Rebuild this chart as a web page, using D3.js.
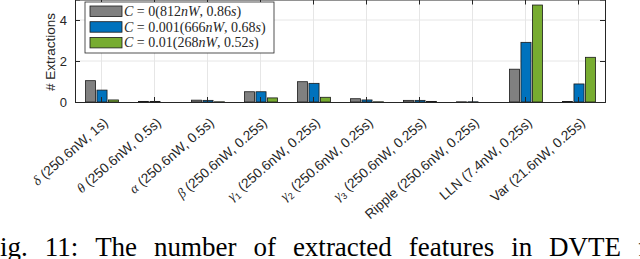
<!DOCTYPE html>
<html>
<head>
<meta charset="utf-8">
<script src="https://cdn.jsdelivr.net/npm/d3@7"></script>
<style>
  body { margin: 0; background: #fff; }
  svg { display: block; }
</style>
</head>
<body>
<script>
// category names (greek part, subscript, rest)
var catGreek = ["δ", "θ", "α", "β", "γ", "γ", "γ", "", "", ""];
var catSub   = ["", "", "", "", "1", "2", "3", "", "", ""];
var catRest  = [" (250.6nW, 1s)", " (250.6nW, 0.5s)", " (250.6nW, 0.5s)", " (250.6nW, 0.25s)",
                " (250.6nW, 0.25s)", " (250.6nW, 0.25s)", " (250.6nW, 0.25s)",
                "Ripple (250.6nW, 0.25s)", "LLN (7.4nW, 0.25s)", "Var (21.6nW, 0.25s)"];

// series values
var c0    = [1.04, 0.03, 0.09, 0.50, 0.99, 0.16, 0.08, 0.01, 1.60, 0.02];
var c001  = [0.58, 0.03, 0.08, 0.50, 0.91, 0.10, 0.08, 0.01, 2.91, 0.88];
var c01   = [0.10, 0.00, 0.01, 0.20, 0.23, 0.01, 0.03, 0.00, 4.73, 2.18];

var seriesNames = ["C = 0(812nW, 0.86s)", "C = 0.001(666nW, 0.68s)", "C = 0.01(268nW, 0.52s)"];
var colors = ["#808080", "#0072BD", "#77AC30"];
var yTicks = [0, 2, 4];

let w = 640;
let h = 259;
let pLeft = 75, pRight = 605, pTop = -0.5, pBottom = 102;

var svg = d3.select("body")
  .append("svg")
  .attr("width", w)
  .attr("height", h);

var idx = d3.range(catRest.length);

let xScale = d3.scaleBand()
  .domain(idx)
  .range([pLeft, pRight])
  .padding(0);

let xSub = d3.scaleBand()
  .domain([0, 1, 2])
  .range([-16, 17])
  .paddingInner(0.12);

let yScale = d3.scaleLinear()
  .domain([0, 5])
  .range([pBottom, pTop]);

// grid
svg.append("g")
  .selectAll("line")
  .data(idx)
  .enter()
  .append("line")
  .attr("x1", function(d){ return xScale(d) + xScale.bandwidth() / 2; })
  .attr("x2", function(d){ return xScale(d) + xScale.bandwidth() / 2; })
  .attr("y1", pTop)
  .attr("y2", pBottom)
  .attr("stroke", "#e6e6e6")
  .attr("stroke-width", 1);

svg.append("g")
  .selectAll("line")
  .data(yTicks.slice(1))
  .enter()
  .append("line")
  .attr("x1", pLeft)
  .attr("x2", pRight)
  .attr("y1", function(d){ return yScale(d); })
  .attr("y2", function(d){ return yScale(d); })
  .attr("stroke", "#e6e6e6")
  .attr("stroke-width", 1);

// bars
var series = [c0, c001, c01];
series.forEach(function(vals, s){
  svg.append("g")
    .selectAll("rect")
    .data(vals)
    .enter()
    .append("rect")
    .attr("x", function(d, i){ return xScale(i) + xScale.bandwidth() / 2 + xSub(s); })
    .attr("y", function(d){ return yScale(d); })
    .attr("width", xSub.bandwidth())
    .attr("height", function(d){ return yScale(0) - yScale(d); })
    .attr("fill", colors[s])
    .attr("stroke", "#1a1a1a")
    .attr("stroke-width", 0.8);
});

// axes (MATLAB box, ticks inward)
let xAxis = d3.axisBottom(xScale).tickSize(-5).tickFormat("");
let xAxisTop = d3.axisTop(xScale).tickSize(-5).tickFormat("");
let yAxis = d3.axisLeft(yScale).tickValues(yTicks).tickSize(-5).tickPadding(8).tickFormat(d3.format("d"));
let yAxisR = d3.axisRight(yScale).tickValues(yTicks).tickSize(-5).tickFormat("");

function styleAxis(g){
  g.select(".domain").attr("stroke", "#262626").attr("stroke-width", 1);
  g.selectAll(".tick line").attr("stroke", "#262626");
  g.selectAll("text").attr("fill", "#262626")
    .attr("font-family", "Liberation Sans, Arial, sans-serif")
    .attr("font-size", "13px");
}

svg.append("g").attr("transform", "translate(0," + pBottom + ")").call(xAxis).call(styleAxis);
svg.append("g").attr("transform", "translate(0," + pTop + ")").call(xAxisTop).call(styleAxis);
svg.append("g").attr("transform", "translate(" + pLeft + ",0)").call(yAxis).call(styleAxis);
svg.append("g").attr("transform", "translate(" + pRight + ",0)").call(yAxisR).call(styleAxis);

// x labels rotated
var lab = svg.append("g")
  .selectAll("text")
  .data(idx)
  .enter()
  .append("text")
  .attr("transform", function(d){
    return "translate(" + (xScale(d) + xScale.bandwidth() / 2 + 7.5) + "," + 124 + ") rotate(-41)";
  })
  .attr("text-anchor", "end")
  .attr("font-family", "Liberation Sans, Arial, sans-serif")
  .attr("font-size", "13.6px")
  .attr("fill", "#262626");

lab.append("tspan")
  .attr("font-family", "Liberation Serif, serif")
  .attr("font-style", "italic")
  .text(function(d){ return catGreek[d]; });
lab.append("tspan")
  .attr("font-size", "9px")
  .attr("dy", function(d){ return catSub[d] ? 3 : 0; })
  .text(function(d){ return catSub[d]; });
lab.append("tspan")
  .attr("dy", function(d){ return catSub[d] ? -3 : 0; })
  .text(function(d){ return catRest[d]; });

// y label
svg.append("text")
  .attr("transform", "translate(55,52) rotate(-90)")
  .attr("text-anchor", "middle")
  .attr("font-family", "Liberation Sans, Arial, sans-serif")
  .attr("font-size", "13.5px")
  .attr("fill", "#262626")
  .text("# Extractions");

// legend
var leg = svg.append("g").attr("transform", "translate(85,2)");
leg.append("rect")
  .attr("width", 189)
  .attr("height", 51)
  .attr("fill", "#fff")
  .attr("stroke", "#262626")
  .attr("stroke-width", 0.8);

var legParts = [
  ["0", "(812", "nW", ", 0.86", "s", ")"],
  ["0.001", "(666", "nW", ", 0.68", "s", ")"],
  ["0.01", "(268", "nW", ", 0.52", "s", ")"]
];

var rows = leg.selectAll("g.row")
  .data(seriesNames)
  .enter()
  .append("g")
  .attr("transform", function(d, i){ return "translate(0," + (4 + i * 15.7) + ")"; });

rows.append("rect")
  .attr("x", 5)
  .attr("width", 32)
  .attr("height", 10.5)
  .attr("fill", function(d, i){ return colors[i]; })
  .attr("stroke", "#1a1a1a")
  .attr("stroke-width", 0.8);

var lt = rows.append("text")
  .attr("x", 39)
  .attr("y", 10)
  .attr("font-family", "Liberation Serif, serif")
  .attr("font-size", "14px")
  .attr("fill", "#262626");

lt.each(function(d, i){
  var t = d3.select(this);
  var p = legParts[i];
  t.append("tspan").attr("font-style", "italic").text("C");
  t.append("tspan").text(" = " + p[0] + p[1]);
  t.append("tspan").attr("font-style", "italic").text(p[2]);
  t.append("tspan").text(p[3]);
  t.append("tspan").attr("font-style", "italic").text(p[4]);
  t.append("tspan").text(p[5]);
});

// caption (justified line, cut off at both sides as in the page)
var capWords = ["Fig.", "11:", "The", "number", "of", "extracted", "features", "in", "DVTE", "f"];
var capStart = -15, capEnd = 638;
var capText = svg.append("g")
  .selectAll("text")
  .data(capWords)
  .enter()
  .append("text")
  .attr("y", 256)
  .attr("font-family", "Liberation Serif, Times New Roman, serif")
  .attr("font-size", "27px")
  .attr("fill", "#000")
  .text(function(d){ return d; });

var widths = [];
capText.each(function(){ widths.push(this.getComputedTextLength()); });
var gap = (capEnd - capStart - d3.sum(widths.slice(0, -1))) / (capWords.length - 1);
var cx = capStart;
capText.attr("x", function(d, i){
  var x0 = cx;
  cx += widths[i] + gap;
  return x0;
});
</script>
</body>
</html>
